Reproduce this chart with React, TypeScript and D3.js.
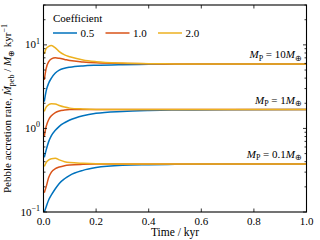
import React from "react";
import * as d3 from "d3";

// time grid (kyr) shared by all curves
const time = [0.003, 0.01, 0.02, 0.03, 0.045, 0.06, 0.08, 0.1, 0.15, 0.2, 0.3, 0.4, 0.5, 0.7, 1.0];

const coefficients = ["0.5", "1.0", "2.0"];
const colors = ["#0072BD", "#D95319", "#EDB120"];

// pebble accretion rate (M_earth / kyr), M_P = 10 M_earth
const rate10_c05 = [2.1, 2.8, 3.5, 4.0, 4.6, 5.0, 5.25, 5.4, 5.6, 5.7, 5.8, 5.85, 5.88, 5.9, 5.9];
const rate10_c10 = [3.8, 5.2, 6.3, 6.8, 7.0, 6.9, 6.7, 6.5, 6.25, 6.1, 6.0, 5.93, 5.91, 5.9, 5.9];
const rate10_c20 = [7.8, 9.0, 9.6, 9.8, 9.2, 8.3, 7.6, 7.2, 6.6, 6.3, 6.05, 5.95, 5.92, 5.9, 5.9];

// M_P = 1 M_earth
const rate1_c05 = [0.45, 0.55, 0.7, 0.82, 0.95, 1.06, 1.17, 1.26, 1.42, 1.52, 1.6, 1.64, 1.66, 1.67, 1.68];
const rate1_c10 = [0.8, 1.05, 1.28, 1.42, 1.55, 1.62, 1.66, 1.68, 1.69, 1.69, 1.68, 1.68, 1.68, 1.68, 1.68];
const rate1_c20 = [1.6, 1.8, 1.93, 1.98, 1.96, 1.88, 1.8, 1.75, 1.71, 1.69, 1.68, 1.68, 1.68, 1.68, 1.68];

// M_P = 0.1 M_earth
const rate01_c05 = [0.1, 0.115, 0.14, 0.16, 0.19, 0.22, 0.25, 0.275, 0.315, 0.34, 0.362, 0.368, 0.372, 0.375, 0.376];
const rate01_c10 = [0.17, 0.2, 0.26, 0.3, 0.33, 0.345, 0.358, 0.365, 0.372, 0.375, 0.376, 0.376, 0.376, 0.376, 0.376];
const rate01_c20 = [0.35, 0.39, 0.42, 0.435, 0.44, 0.42, 0.4, 0.39, 0.382, 0.378, 0.376, 0.376, 0.376, 0.376, 0.376];

const massLabels = ["10", "1", "0.1"];
const massLevels = [5.9, 1.68, 0.376];

const xTicks = [0, 0.2, 0.4, 0.6, 0.8, 1.0];
const yDecades = [-1, 0, 1];

const series = [
  { coef: 0, values: rate10_c05 },
  { coef: 1, values: rate10_c10 },
  { coef: 2, values: rate10_c20 },
  { coef: 0, values: rate1_c05 },
  { coef: 1, values: rate1_c10 },
  { coef: 2, values: rate1_c20 },
  { coef: 0, values: rate01_c05 },
  { coef: 1, values: rate01_c10 },
  { coef: 2, values: rate01_c20 },
];

const left = 43.5;
const right = 306.5;
const top = 5;
const bottom = 212;

export default function App() {
  const x = d3.scaleLinear().domain([0, 1]).range([left, right]);
  const y = d3.scaleLog().domain([0.1, 30]).range([bottom, top]);

  const line = d3
    .line<number>()
    .x((_, i) => x(time[i]))
    .y((d) => y(d))
    .curve(d3.curveMonotoneX);

  const minor = y.ticks().filter((v) => Math.abs(Math.log10(v) - Math.round(Math.log10(v))) > 1e-6);

  const font = "'Liberation Serif', 'Times New Roman', serif";

  return (
    <svg width={320} height={240} style={{ position: "absolute", left: 0, top: 0, fontFamily: font }}>
      <rect width={320} height={240} fill="#fff" />
      <defs>
        <clipPath id="plot">
          <rect x={left} y={top} width={right - left} height={bottom - top} />
        </clipPath>
      </defs>

      {/* blue first, then red, orange on top */}
      <g clipPath="url(#plot)" fill="none" strokeWidth={1.5}>
        {[0, 1, 2].map((c) =>
          series
            .filter((s) => s.coef === c)
            .map((s, i) => <path key={c + "-" + i} d={line(s.values) ?? ""} stroke={colors[c]} />)
        )}
      </g>

      {/* ticks, all inward */}
      <g stroke="#000" strokeWidth={0.8}>
        {xTicks.map((t) => (
          <g key={"xt" + t}>
            <line x1={x(t)} x2={x(t)} y1={bottom} y2={bottom - 3.5} />
            <line x1={x(t)} x2={x(t)} y1={top} y2={top + 3.5} />
          </g>
        ))}
        {yDecades.map((d) => (
          <g key={"yt" + d}>
            <line x1={left} x2={left + 3.5} y1={y(10 ** d)} y2={y(10 ** d)} />
            <line x1={right} x2={right - 3.5} y1={y(10 ** d)} y2={y(10 ** d)} />
          </g>
        ))}
        {minor.map((v) => (
          <g key={"ym" + v}>
            <line x1={left} x2={left + 2} y1={y(v)} y2={y(v)} />
            <line x1={right} x2={right - 2} y1={y(v)} y2={y(v)} />
          </g>
        ))}
      </g>

      <rect x={left} y={top} width={right - left} height={bottom - top} fill="none" stroke="#000" strokeWidth={1.1} />

      {/* tick labels */}
      <g fontSize={11} fill="#000">
        {xTicks.map((t) => (
          <text key={"xl" + t} x={x(t)} y={bottom + 13} textAnchor="middle">
            {t.toFixed(1)}
          </text>
        ))}
        {yDecades.map((d) => (
          <text key={"yl" + d} x={40} y={y(10 ** d) + 3.5} textAnchor="end">
            10
            <tspan dy={-4.5} fontSize={8}>
              {d < 0 ? "\u2212" + Math.abs(d) : String(d)}
            </tspan>
          </text>
        ))}
      </g>

      <text x={(left + right) / 2} y={236} textAnchor="middle" fontSize={11.5}>
        Time / kyr
      </text>

      <text transform={`translate(11, ${(top + bottom) / 2}) rotate(-90)`} textAnchor="middle" fontSize={11}>
        Pebble accretion rate,{" "}
        <tspan fontStyle="italic">M&#x307;</tspan>
        <tspan dy={2.5} fontSize={8}>
          peb
        </tspan>
        <tspan dy={-2.5}> / </tspan>
        <tspan fontStyle="italic">M</tspan>
        <tspan dy={2.5} fontSize={8}>
          ⊕
        </tspan>
        <tspan dy={-2.5}> kyr</tspan>
        <tspan dy={-4} fontSize={8}>
          −1
        </tspan>
      </text>

      {/* mass annotations */}
      <g fontSize={11}>
        {massLabels.map((m, i) => (
          <text key={"m" + m} x={302} y={y(massLevels[i]) - 6} textAnchor="end">
            <tspan fontStyle="italic">M</tspan>
            <tspan dy={2.5} fontSize={8}>
              P
            </tspan>
            <tspan dy={-2.5}>{" = " + m}</tspan>
            <tspan fontStyle="italic">M</tspan>
            <tspan dy={2.5} fontSize={8}>
              ⊕
            </tspan>
          </text>
        ))}
      </g>

      {/* legend */}
      <text x={53} y={22} fontSize={11}>
        Coefficient
      </text>
      {coefficients.map((c, i) => (
        <g key={"lg" + c} transform={`translate(${53 + i * 52.5}, 33)`}>
          <line x1={0} x2={24} y1={0} y2={0} stroke={colors[i]} strokeWidth={1.5} />
          <text x={27.5} y={4} fontSize={11}>
            {c}
          </text>
        </g>
      ))}
    </svg>
  );
}
